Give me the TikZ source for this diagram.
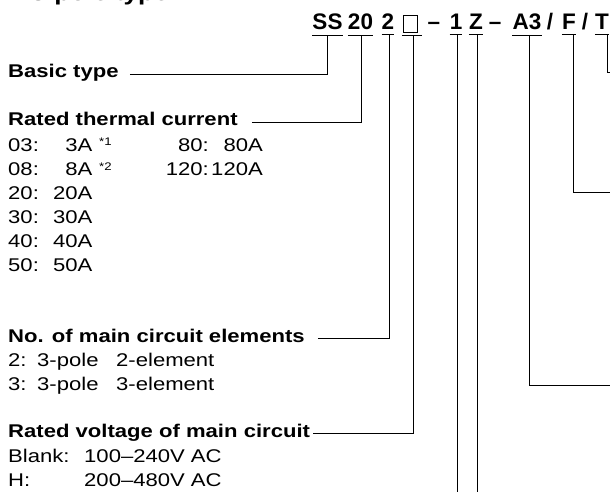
\documentclass[tikz,border=0pt]{standalone}
\usepackage{fontspec}
\setmainfont{Liberation Sans}[FakeStretch=1.2]
\newfontfamily\codefont{Liberation Sans}
\tikzset{
  code/.style={font=\codefont\bfseries\fontsize{22.5}{26}\selectfont, anchor=base, inner xsep=0pt, inner ysep=4.5pt},
  head/.style={font=\bfseries\fontsize{18.4}{22}\selectfont, anchor=base west, inner sep=0pt},
  txt/.style={font=\fontsize{18.4}{22}\selectfont, inner sep=0pt},
  note/.style={font=\fontsize{11}{13}\selectfont, anchor=base west, inner sep=0pt},
  boxglyph/.style={draw, line width=0.7pt, minimum width=14pt, minimum height=17pt, inner sep=0pt},
  lead/.style={line width=0.8pt}
}
\begin{document}
\begin{tikzpicture}[x=1pt, y=-1pt]
  \useasboundingbox (0,0) rectangle (610,492);
  \node[head, font=\bfseries\fontsize{21.7}{26}\selectfont] (title) at (8,1) {■ 3-pole type};
  \draw
    (327.5,30) node[code] (ss){SS}
    (360.5,30) node[code] (cur){20}
    (388,30) node[code] (poles){2}
    (412,30) node[code, minimum width=19pt] (volt){\phantom{0}}
    (434,30) node[code] (dasha){–}
    (456,30) node[code] (one){1}
    (476,30) node[code] (zed){Z}
    (495,30) node[code] (dashb){–}
    (527,30) node[code] (athree){A3}
    (550,30) node[code] (slasha){/}
    (569,30) node[code] (eff){F}
    (585,30) node[code] (slashb){/}
    (602,30) node[code] (tee){T};
  \node[boxglyph] (sq) at ([xshift=-2pt,yshift=6.5pt]volt.base) {};
  \coordinate (edgea) at (615,385);
  \coordinate (edgef) at (615,192);
  \coordinate (edget) at (615,72);
  \coordinate (bottom) at (0,495);

  \node[head] (basic) at (8,78) {Basic type};
  \node[head] (thermal) at (8,126) {Rated thermal current};
  \node[txt, anchor=base west] (k03) at (8,151.5) {03:};
  \node[txt, anchor=base east] (v03) at (92.5,151.5) {3A};
  \node[note] (n03) at (99,146) {*1};
  \node[txt, anchor=base east] (k80) at (209,151.5) {80:};
  \node[txt, anchor=base east] (v80) at (263,151.5) {80A};
  \node[txt, anchor=base west] (k08) at (8,175.5) {08:};
  \node[txt, anchor=base east] (v08) at (92.5,175.5) {8A};
  \node[note] (n08) at (99,170) {*2};
  \node[txt, anchor=base east] (k120) at (209,175.5) {120:};
  \node[txt, anchor=base east] (v120) at (263,175.5) {120A};
  \node[txt, anchor=base west] (k20) at (8,199.5) {20:};
  \node[txt, anchor=base east] (v20) at (92.5,199.5) {20A};
  \node[txt, anchor=base west] (k30) at (8,223.5) {30:};
  \node[txt, anchor=base east] (v30) at (92.5,223.5) {30A};
  \node[txt, anchor=base west] (k40) at (8,247.5) {40:};
  \node[txt, anchor=base east] (v40) at (92.5,247.5) {40A};
  \node[txt, anchor=base west] (k50) at (8,271) {50:};
  \node[txt, anchor=base east] (v50) at (92.5,271) {50A};

  \node[head] (elements) at (8,342.5) {No. of main circuit elements};
  \node[txt, anchor=base west] (ktwo) at (8,366.5) {2:};
  \node[txt, anchor=base west] (ptwo) at (37,366.5) {3-pole};
  \node[txt, anchor=base west] (etwo) at (116,366.5) {2-element};
  \node[txt, anchor=base west] (kthree) at (8,390.5) {3:};
  \node[txt, anchor=base west] (pthree) at (37,390.5) {3-pole};
  \node[txt, anchor=base west] (ethree) at (116,390.5) {3-element};

  \node[head] (voltage) at (8,437) {Rated voltage of main circuit};
  \node[txt, anchor=base west] (kblank) at (8,462.5) {Blank:};
  \node[txt, anchor=base west] (vblank) at (84,462.5) {100--240V AC};
  \node[txt, anchor=base west] (kh) at (8,486) {H:};
  \node[txt, anchor=base west] (vh) at (84,486) {200--480V AC};

  \begin{scope}[lead]
    \draw (ss.south west) -- (ss.south east);
    \draw (cur.south west) -- (cur.south east);
    \draw (poles.south west) -- (poles.south east);
    \draw (volt.south west) -- (volt.south east);
    \draw (one.south west) -- (one.south east);
    \draw (zed.south west) -- (zed.south east);
    \draw (athree.south west) -- (athree.south east);
    \draw (eff.south west) -- (eff.south east);
    \draw (tee.south west) -- (tee.south east);
    \draw ([xshift=11pt,yshift=4pt]basic.base east) -| (ss.south);
    \draw ([xshift=14pt,yshift=4pt]thermal.base east) -| ([xshift=0.5pt]cur.south);
    \draw ([xshift=13pt,yshift=4pt]elements.base east) -| ([xshift=1pt]poles.south);
    \draw ([xshift=3pt,yshift=4pt]voltage.base east) -| ([xshift=1.5pt]volt.south);
    \draw ([xshift=1.5pt]one.south) -- ([xshift=1.5pt]one.south |- bottom);
    \draw ([xshift=1.5pt]zed.south) -- ([xshift=1.5pt]zed.south |- bottom);
    \draw ([xshift=2.5pt]athree.south) |- (edgea);
    \draw ([xshift=4pt]eff.south) |- (edgef);
    \draw ([xshift=5pt]tee.south) |- (edget);
  \end{scope}
\end{tikzpicture}
\end{document}
